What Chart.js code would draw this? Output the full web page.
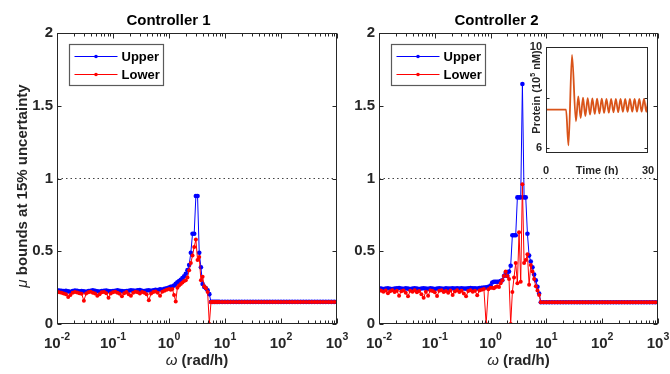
<!DOCTYPE html>
<html>
<head>
<meta charset="utf-8">
<script src="https://cdn.jsdelivr.net/npm/chart.js@4.4.1/dist/chart.umd.min.js"></script>
<style>
  body { margin: 0; background: #fff; }
  #wrap { position: relative; width: 670px; height: 374px; overflow: hidden; }
  .pane { position: absolute; }
</style>
</head>
<body>
<div id="wrap">
  <div class="pane" style="left:0;top:0;width:350px;height:374px"><canvas id="c1" width="350" height="374"></canvas></div>
  <div class="pane" style="left:335px;top:0;width:335px;height:374px"><canvas id="c2" width="335" height="374"></canvas></div>
  <div class="pane" style="left:515px;top:30px;width:150px;height:145px"><canvas id="c3" width="150" height="145"></canvas></div>
</div>
<script>
const FONT = "'Liberation Sans', Arial, Helvetica, sans-serif";
const INK = '#262626';

// log10 of the frequency w (rad/h), same sampling for both controllers
const omegaExp = [
  -2.00,-1.96,-1.92,-1.88,-1.84,-1.80,-1.76,-1.72,-1.68,-1.64,
  -1.60,-1.56,-1.52,-1.48,-1.44,-1.40,-1.36,-1.32,-1.28,-1.24,
  -1.20,-1.16,-1.12,-1.08,-1.04,-1.00,-0.96,-0.92,-0.88,-0.84,
  -0.80,-0.76,-0.72,-0.68,-0.64,-0.60,-0.56,-0.52,-0.48,-0.44,
  -0.40,-0.36,-0.32,-0.28,-0.24,-0.20,-0.16,-0.12,-0.08,-0.04,
  0.00,
  0.03,0.06,0.09,0.12,0.15,0.18,0.21,0.24,0.27,0.30,
  0.33,0.36,0.39,0.42,0.45,0.48,0.51,0.54,0.57,0.60,
  0.63,0.66,0.69,0.72,0.75,0.78,0.81,0.84,0.87,
  0.90,0.95,1.00,1.05,1.10,1.15,1.20,1.25,1.30,1.35,
  1.40,1.45,1.50,1.55,1.60,1.65,1.70,1.75,1.80,1.85,
  1.90,1.95,2.00,2.05,2.10,2.15,2.20,2.25,2.30,2.35,
  2.40,2.45,2.50,2.55,2.60,2.65,2.70,2.75,2.80,2.85,
  2.90,2.95,3.00
];

// Controller 1
const upper1 = [
  0.232,0.230,0.228,0.226,0.229,0.224,0.222,0.226,0.230,0.228,
  0.225,0.227,0.224,0.222,0.226,0.229,0.231,0.228,0.225,0.223,
  0.226,0.228,0.230,0.227,0.224,0.226,0.229,0.231,0.228,0.226,
  0.224,0.227,0.229,0.232,0.230,0.228,0.231,0.233,0.229,0.227,
  0.230,0.232,0.229,0.231,0.235,0.233,0.238,0.236,0.242,0.246,
  0.250,
  0.255,0.258,0.265,0.276,0.287,0.295,0.303,0.315,0.328,0.345,
  0.370,0.405,0.490,0.620,0.620,0.880,0.880,0.490,0.390,0.275,
  0.255,0.245,0.232,0.205,0.152,0.152,0.152,0.152,0.152,
  0.152,0.152,0.152,0.152,0.152,0.152,0.152,0.152,0.152,0.152,
  0.152,0.152,0.152,0.152,0.152,0.152,0.152,0.152,0.152,0.152,
  0.152,0.152,0.152,0.152,0.152,0.152,0.152,0.152,0.152,0.152,
  0.152,0.152,0.152,0.152,0.152,0.152,0.152,0.152,0.152,0.152,
  0.152,0.152,0.152
];
const lower1 = [
  0.222,0.218,0.214,0.210,0.205,0.185,0.200,0.215,0.220,0.217,
  0.212,0.208,0.160,0.210,0.218,0.221,0.215,0.210,0.195,0.205,
  0.218,0.220,0.212,0.180,0.210,0.219,0.222,0.214,0.208,0.190,
  0.212,0.220,0.205,0.195,0.215,0.222,0.218,0.210,0.220,0.214,
  0.205,0.163,0.210,0.220,0.224,0.215,0.195,0.222,0.228,0.235,
  0.240,
  0.235,0.240,0.200,0.155,0.250,0.265,0.275,0.285,0.295,0.300,
  0.320,0.370,0.420,0.470,0.530,0.580,0.440,0.460,0.300,0.325,
  0.260,0.245,0.220,0.000,0.152,0.152,0.152,0.152,0.152,
  0.152,0.152,0.152,0.152,0.152,0.152,0.152,0.152,0.152,0.152,
  0.152,0.152,0.152,0.152,0.152,0.152,0.152,0.152,0.152,0.152,
  0.152,0.152,0.152,0.152,0.152,0.152,0.152,0.152,0.152,0.152,
  0.152,0.152,0.152,0.152,0.152,0.152,0.152,0.152,0.152,0.152,
  0.152,0.152,0.152
];

// Controller 2
const upper2 = [
  0.245,0.243,0.241,0.244,0.246,0.242,0.240,0.243,0.245,0.247,
  0.244,0.242,0.245,0.243,0.241,0.244,0.246,0.243,0.241,0.244,
  0.246,0.244,0.242,0.245,0.243,0.241,0.244,0.246,0.244,0.242,
  0.245,0.243,0.244,0.246,0.243,0.245,0.244,0.246,0.244,0.243,
  0.245,0.247,0.245,0.246,0.244,0.247,0.248,0.250,0.252,0.256,
  0.265,
  0.285,0.290,0.290,0.290,0.290,0.295,0.300,0.330,0.350,0.330,
  0.360,0.400,0.610,0.610,0.610,0.870,0.870,0.870,1.650,0.870,
  0.870,0.620,0.470,0.430,0.390,0.340,0.300,0.256,0.210,
  0.150,0.150,0.150,0.150,0.150,0.150,0.150,0.150,0.150,0.150,
  0.150,0.150,0.150,0.150,0.150,0.150,0.150,0.150,0.150,0.150,
  0.150,0.150,0.150,0.150,0.150,0.150,0.150,0.150,0.150,0.150,
  0.150,0.150,0.150,0.150,0.150,0.150,0.150,0.150,0.150,0.150,
  0.150,0.150,0.150
];
const lower2 = [
  0.235,0.228,0.222,0.230,0.212,0.225,0.232,0.220,0.228,0.195,
  0.225,0.230,0.215,0.190,0.228,0.222,0.232,0.218,0.226,0.205,
  0.180,0.222,0.195,0.230,0.226,0.218,0.192,0.228,0.232,0.220,
  0.226,0.215,0.230,0.200,0.224,0.232,0.220,0.228,0.210,0.190,
  0.226,0.232,0.222,0.228,0.198,0.230,0.235,0.240,0.000,0.238,
  0.250,
  0.250,0.245,0.255,0.260,0.255,0.280,0.300,0.330,0.360,0.330,
  0.310,0.000,0.220,0.320,0.420,0.280,0.630,0.290,0.960,0.420,
  0.440,0.480,0.270,0.405,0.360,0.310,0.260,0.230,0.200,
  0.150,0.150,0.150,0.150,0.150,0.150,0.150,0.150,0.150,0.150,
  0.150,0.150,0.150,0.150,0.150,0.150,0.150,0.150,0.150,0.150,
  0.150,0.150,0.150,0.150,0.150,0.150,0.150,0.150,0.150,0.150,
  0.150,0.150,0.150,0.150,0.150,0.150,0.150,0.150,0.150,0.150,
  0.150,0.150,0.150
];

const muLimit = 1;       // dotted reference line
const omegaRange = [0.01, 1000];

// inset: protein time course
const insetTime = [0, 5.9, 6.6, 7.65, 8.8, 9.5, 10.19, 10.88, 11.57, 12.26, 12.95, 13.64,
  14.33, 15.02, 15.71, 16.40, 17.09, 17.78, 18.47, 19.16, 19.85, 20.54, 21.23, 21.92,
  22.61, 23.30, 23.99, 24.68, 25.37, 26.06, 26.75, 27.44, 28.13, 28.82, 29.51, 30];
const insetProtein = [7.53, 7.53, 6.12, 9.69, 7.07, 8.05, 7.20, 8.00, 7.28, 7.98, 7.33, 7.97,
  7.36, 7.96, 7.38, 7.96, 7.40, 7.95, 7.41, 7.95, 7.42, 7.95, 7.43, 7.95,
  7.44, 7.95, 7.44, 7.95, 7.45, 7.95, 7.45, 7.95, 7.45, 7.95, 7.45, 7.85];
const insetXTicks = [0, 15, 30];
const insetXLabels = ['0', 'Time (h)', '30'];
const insetYTicks = [6, 8, 10];
const insetYLabels = ['6', '', '10'];

function toPoints(ys) {
  return omegaExp.map((e, i) => ({ x: Math.pow(10, e), y: ys[i] }));
}

function richText(ctx, parts, x, y) {
  let w = 0;
  parts.forEach(p => { ctx.font = p.f; p.w = ctx.measureText(p.t).width; w += p.w; });
  let cx = x - w / 2;
  parts.forEach(p => { ctx.font = p.f; ctx.fillText(p.t, cx, y + (p.dy || 0)); cx += p.w; });
}

// box, inward ticks, 10^k labels, axis labels and legend, MATLAB style
const matlabAxes = {
  id: 'matlab',
  afterDraw(chart, args, opts) {
    const { ctx, chartArea: a, scales: { x, y } } = chart;
    const L = Math.round(a.left) + 0.5, R = Math.round(a.right) - 0.5;
    const T = Math.round(a.top) + 0.5, B = Math.round(a.bottom) - 0.5;
    ctx.save();
    ctx.strokeStyle = INK;
    ctx.lineWidth = 1;
    ctx.strokeRect(L, T, R - L, B - T);
    ctx.beginPath();
    for (let k = -2; k <= 3; k++) {
      for (let m = 1; m <= 9; m++) {
        if (k === 3 && m > 1) break;
        const px = Math.round(x.getPixelForValue(m * Math.pow(10, k))) + 0.5;
        const len = m === 1 ? 5 : 3;
        ctx.moveTo(px, B); ctx.lineTo(px, B - len);
        ctx.moveTo(px, T); ctx.lineTo(px, T + len);
      }
    }
    y.ticks.forEach(t => {
      const py = Math.round(y.getPixelForValue(t.value)) + 0.5;
      ctx.moveTo(L, py); ctx.lineTo(L + 4, py);
      ctx.moveTo(R, py); ctx.lineTo(R - 4, py);
    });
    ctx.stroke();

    ctx.fillStyle = INK;
    ctx.textAlign = 'left';
    ctx.textBaseline = 'alphabetic';
    for (let k = -2; k <= 3; k++) {
      const px = x.getPixelForValue(Math.pow(10, k));
      richText(ctx, [
        { t: '10', f: 'bold 15px ' + FONT },
        { t: String(k), f: 'bold 10.5px ' + FONT, dy: -8 }
      ], px, 348);
    }
    richText(ctx, [
      { t: '\u03c9', f: 'italic 15px ' + FONT },
      { t: ' (rad/h)', f: 'bold 15px ' + FONT }
    ], (a.left + a.right) / 2, 365);

    if (opts.ylabel) {
      ctx.save();
      ctx.translate(27, 186);
      ctx.rotate(-Math.PI / 2);
      richText(ctx, [
        { t: '\u03bc', f: 'italic 15px ' + FONT },
        { t: ' bounds at 15% uncertainty', f: 'bold 15px ' + FONT }
      ], 0, 0);
      ctx.restore();
    }

    // legend
    const lx = Math.round(a.left) + 12.5, ly = Math.round(a.top) + 11.5;
    const lw = 94, lh = 41;
    ctx.fillStyle = '#fff';
    ctx.fillRect(lx, ly, lw, lh);
    ctx.strokeStyle = '#5a5a5a';
    ctx.lineWidth = 1.2;
    ctx.strokeRect(lx, ly, lw, lh);
    const items = [
      { label: 'Upper', color: '#0000ff', yy: ly + 12 },
      { label: 'Lower', color: '#ff0000', yy: ly + 30 }
    ];
    items.forEach(it => {
      ctx.strokeStyle = it.color;
      ctx.lineWidth = 1;
      ctx.beginPath();
      ctx.moveTo(lx + 5, it.yy); ctx.lineTo(lx + 48, it.yy);
      ctx.stroke();
      ctx.fillStyle = it.color;
      ctx.beginPath();
      ctx.arc(lx + 26.5, it.yy, 1.8, 0, Math.PI * 2);
      ctx.fill();
      ctx.fillStyle = '#000';
      ctx.font = 'bold 13px ' + FONT;
      ctx.textBaseline = 'middle';
      ctx.fillText(it.label, lx + 52, it.yy + 1);
    });
    ctx.restore();
  }
};

function muChart(id, title, up, low, yWidth, padRight, ylabel) {
  return new Chart(document.getElementById(id), {
    type: 'line',
    data: {
      datasets: [
        {
          label: 'Upper', data: toPoints(up), order: 2,
          borderColor: '#0000ff', backgroundColor: '#0000ff', borderWidth: 1,
          pointRadius: 2.3, pointBorderWidth: 0, tension: 0
        },
        {
          label: 'Lower', data: toPoints(low), order: 1,
          borderColor: '#ff0000', backgroundColor: '#ff0000', borderWidth: 1,
          pointRadius: 2, pointBorderWidth: 0, tension: 0
        },
        {
          label: 'limit', order: 3,
          data: omegaRange.map(w => ({ x: w, y: muLimit })),
          borderColor: '#444', borderWidth: 1, borderDash: [1.5, 3], pointRadius: 0
        }
      ]
    },
    options: {
      responsive: false,
      animation: false,
      devicePixelRatio: 1,
      parsing: false,
      layout: { padding: { left: 0, right: padRight, top: 0, bottom: 0 } },
      plugins: {
        legend: { display: false },
        tooltip: { enabled: false },
        title: {
          display: true, text: title, color: '#000',
          font: { family: FONT, size: 15, weight: 'bold', lineHeight: 1.2 },
          padding: { top: 12, bottom: 3 }
        },
        matlab: { ylabel: ylabel }
      },
      scales: {
        x: {
          type: 'logarithmic', min: omegaRange[0], max: omegaRange[1],
          grid: { display: false }, border: { display: false },
          ticks: { display: false },
          afterFit(s) { s.height = 50; }
        },
        y: {
          min: 0, max: 2,
          grid: { display: false, drawTicks: false }, border: { display: false },
          ticks: {
            stepSize: 0.5, padding: 4, color: INK,
            font: { family: FONT, size: 15, weight: 'bold' },
            callback: (v) => String(v)
          },
          afterFit(s) { s.width = yWidth; }
        }
      }
    },
    plugins: [matlabAxes]
  });
}

const insetFrame = {
  id: 'insetFrame',
  beforeDatasetsDraw(chart) {
    const { ctx, chartArea: a } = chart;
    ctx.save();
    ctx.fillStyle = '#fff';
    ctx.fillRect(a.left, a.top, a.right - a.left, a.bottom - a.top);
    ctx.restore();
  },
  afterDraw(chart) {
    const { ctx, chartArea: a, scales: { y } } = chart;
    const L = Math.round(a.left) + 0.5, R = Math.round(a.right) - 0.5;
    const T = Math.round(a.top) + 0.5, B = Math.round(a.bottom) - 0.5;
    ctx.save();
    ctx.strokeStyle = INK;
    ctx.lineWidth = 1;
    ctx.strokeRect(L, T, R - L, B - T);
    ctx.beginPath();
    insetYTicks.forEach(v => {
      const py = Math.round(y.getPixelForValue(v)) + 0.5;
      ctx.moveTo(L, py); ctx.lineTo(L + 3, py);
      ctx.moveTo(R, py); ctx.lineTo(R - 3, py);
    });
    ctx.stroke();
    ctx.fillStyle = INK;
    ctx.textAlign = 'left';
    ctx.textBaseline = 'alphabetic';
    ctx.translate(25, 62);
    ctx.rotate(-Math.PI / 2);
    richText(ctx, [
      { t: 'Protein (10', f: 'bold 11px ' + FONT },
      { t: '5', f: 'bold 7px ' + FONT, dy: -5 },
      { t: ' nM)', f: 'bold 11px ' + FONT }
    ], 0, 0);
    ctx.restore();
  }
};

muChart('c1', 'Controller 1', upper1, lower1, 57, 13, true);
muChart('c2', 'Controller 2', upper2, lower2, 44, 12, false);

new Chart(document.getElementById('c3'), {
  type: 'line',
  data: {
    datasets: [{
      data: insetTime.map((t, i) => ({ x: t, y: insetProtein[i] })),
      borderColor: '#D95319', borderWidth: 1.8, pointRadius: 0,
      cubicInterpolationMode: 'monotone'
    }]
  },
  options: {
    responsive: false,
    animation: false,
    devicePixelRatio: 1,
    parsing: false,
    layout: { padding: { left: 0, right: 17, top: 17, bottom: 0 } },
    plugins: { legend: { display: false }, tooltip: { enabled: false } },
    scales: {
      x: {
        type: 'linear', min: 0, max: 30,
        grid: { display: false }, border: { display: false },
        afterBuildTicks(s) { s.ticks = insetXTicks.map(v => ({ value: v })); },
        ticks: {
          autoSkip: false, maxRotation: 0, padding: 3, color: INK,
          font: { family: FONT, size: 11, weight: 'bold' },
          callback: (v) => insetXLabels[insetXTicks.indexOf(v)]
        },
        afterFit(s) { s.height = 22; }
      },
      y: {
        min: 5.82, max: 10,
        grid: { display: false, drawTicks: false }, border: { display: false },
        afterBuildTicks(s) { s.ticks = insetYTicks.map(v => ({ value: v })); },
        ticks: {
          autoSkip: false, padding: 4, color: INK,
          font: { family: FONT, size: 11, weight: 'bold' },
          callback: (v) => insetYLabels[insetYTicks.indexOf(v)]
        },
        afterFit(s) { s.width = 31; }
      }
    }
  },
  plugins: [insetFrame]
});
</script>
</body>
</html>
